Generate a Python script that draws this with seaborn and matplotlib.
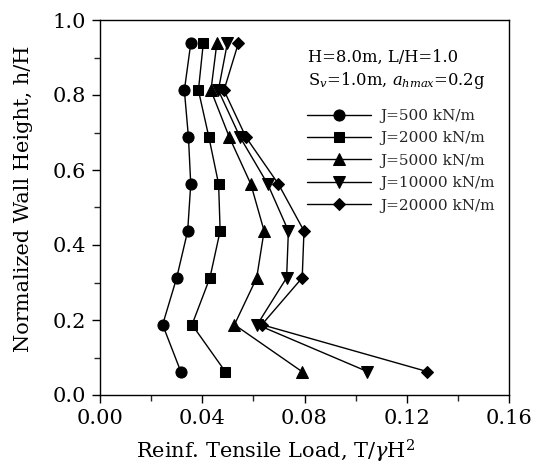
import matplotlib
matplotlib.use("Agg")
import matplotlib.pyplot as plt
import seaborn as sns
import pandas as pd
from matplotlib.ticker import MultipleLocator

heights = [0.0625, 0.1875, 0.3125, 0.4375, 0.5625, 0.6875, 0.8125, 0.9375]
j500 = [0.0316, 0.0245, 0.0300, 0.0343, 0.0355, 0.0346, 0.0330, 0.0355]
j2000 = [0.0490, 0.0360, 0.0430, 0.0470, 0.0464, 0.0426, 0.0385, 0.0404]
j5000 = [0.0790, 0.0526, 0.0613, 0.0642, 0.0590, 0.0506, 0.0434, 0.0457]
j10000 = [0.1046, 0.0615, 0.0730, 0.0737, 0.0656, 0.0548, 0.0463, 0.0498]
j20000 = [0.1280, 0.0633, 0.0791, 0.0798, 0.0698, 0.0571, 0.0485, 0.0541]
labels = ["J=500 kN/m", "J=2000 kN/m", "J=5000 kN/m", "J=10000 kN/m", "J=20000 kN/m"]
series = [j500, j2000, j5000, j10000, j20000]
markers = ["o", "s", "^", "v", "D"]
msizes = [8, 7.5, 8, 8, 6.5]

sns.set_theme(style="ticks")
plt.rcParams["font.family"] = ["DejaVu Serif"]
plt.rcParams["mathtext.fontset"] = "dejavuserif"

fig = plt.figure(figsize=(5.33, 4.68), dpi=100)
ax = fig.add_axes([100/533, 1 - 395/468, 409/533, 375/468])

for lab, vals, mk, ms in zip(labels, series, markers, msizes):
    df = pd.DataFrame({"load": vals, "h": heights})
    sns.lineplot(data=df, x="load", y="h", sort=False, estimator=None,
                 marker=mk, markersize=ms, color="black", linewidth=1.0,
                 markeredgecolor="black", label=lab, ax=ax, orient="y")

ax.set_xlim(0, 0.16)
ax.set_ylim(0, 1.0)
ax.set_xticks([0.0, 0.04, 0.08, 0.12, 0.16])
ax.set_xticklabels(["0.00", "0.04", "0.08", "0.12", "0.16"])
ax.set_yticks([0.0, 0.2, 0.4, 0.6, 0.8, 1.0])
ax.set_yticklabels(["0.0", "0.2", "0.4", "0.6", "0.8", "1.0"])
ax.xaxis.set_minor_locator(MultipleLocator(0.02))
ax.yaxis.set_minor_locator(MultipleLocator(0.1))
ax.tick_params(which="major", direction="out", length=6, width=1, labelsize=15, pad=4, colors="black")
ax.tick_params(which="minor", direction="out", length=4, width=1)
for s in ax.spines.values():
    s.set_visible(True)
    s.set_color("black")
    s.set_linewidth(1.0)

ax.set_xlabel("Reinf. Tensile Load, T/$\\gamma$H$^2$", fontsize=15, color="black")
ax.set_ylabel("Normalized Wall Height, h/H", fontsize=15, color="black")
ax.xaxis.set_label_coords(0.43, -0.115)
ax.yaxis.set_label_coords(-0.164, 0.523)

ax.text(0.508, 0.889, "H=8.0m, L/H=1.0", transform=ax.transAxes, fontsize=11.8, color="black")
ax.text(0.508, 0.827, "S$_v$=1.0m, $a_{hmax}$=0.2g", transform=ax.transAxes, fontsize=11.8, color="black")

leg = ax.legend(loc="upper left", bbox_to_anchor=(0.49, 0.779), frameon=False,
                fontsize=11, handlelength=4.2, handletextpad=0.6, labelspacing=0.55,
                borderaxespad=0)

fig.savefig("out.png", dpi=100)
